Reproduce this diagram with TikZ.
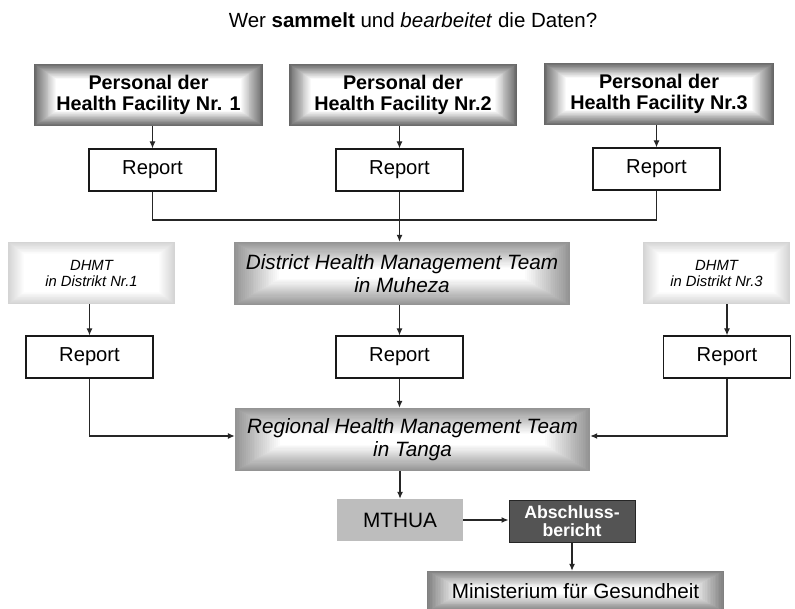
\documentclass[tikz,border=0pt]{standalone}
\usepackage{fontspec}
\setmainfont{Liberation Sans}
\usetikzlibrary{arrows.meta,backgrounds,calc}

\newcommand\glowfill[5]{% node, outer colour, inset x, inset y, steps
  \foreach \i in {0,...,#5}{%
    \pgfmathsetmacro\pct{100*(\i/#5)}%
    \pgfmathsetmacro\dx{\i*#3/#5}%
    \pgfmathsetmacro\dy{\i*#4/#5}%
    \fill[white!\pct!#2] ([shift={(\dx pt,-\dy pt)}]#1.north west) rectangle ([shift={(-\dx pt,\dy pt)}]#1.south east);
  }}

\tikzset{
  conn/.style={draw=black!85, line width=1.2pt},
  arr/.style={conn, -{Latex[length=7pt,width=6pt]}},
  plain/.style={inner sep=0pt, align=center},
  hfbox/.style={plain, font=\fontsize{19.8}{21.5}\selectfont\bfseries, minimum height=62pt},
  reportbox/.style={plain, draw=black!90, line width=1.2pt, fill=white,
     minimum width=127pt, minimum height=42pt, font=\fontsize{20.2}{22}\selectfont},
  dsmall/.style={plain, font=\fontsize{14.8}{16}\selectfont\itshape, minimum height=62pt},
  dbig/.style={plain, font=\fontsize{20.7}{22.5}\selectfont\itshape, minimum height=63pt},
  mthuabox/.style={plain, fill=black!26, minimum width=126pt, minimum height=42pt,
     font=\fontsize{20.8}{22}\selectfont},
  abschbox/.style={plain, fill=black!67, draw=black!85, line width=1pt, text=white,
     minimum width=126pt, minimum height=42pt, font=\fontsize{17.7}{18.5}\selectfont\bfseries},
  minibox/.style={plain, minimum width=297pt, minimum height=40pt, font=\fontsize{20.7}{22}\selectfont},
}

\begin{document}
\begin{tikzpicture}[x=1pt,y=-1pt]
\useasboundingbox (0,0) rectangle (795,609);

\node[plain, font=\fontsize{20.5}{22}\selectfont] (title) at (413,20)
  {Wer \textbf{sammelt} und \textit{bearbeitet} die Daten?};

% health facilities
\node[hfbox, minimum width=229pt] (hf1) at (148.5,95) {Personal der\\Health Facility Nr. 1};
\node[hfbox, minimum width=228pt] (hf2) at (403,95) {Personal der\\Health Facility Nr.2};
\node[hfbox, minimum width=230pt] (hf3) at (659,94) {Personal der\\Health Facility Nr.3};

% first reports
\node[reportbox] (r1) at (152.5,170) {Report};
\node[reportbox] (r2) at (399.5,170) {Report};
\node[reportbox] (r3) at (656.5,169) {Report};

% district teams
\node[dsmall, minimum width=167pt] (d1) at (91.5,273) {DHMT\\in Distrikt Nr.1};
\node[dbig, minimum width=336pt] (d2) at (402,273.5) {District Health Management Team\\in Muheza};
\node[dsmall, minimum width=147pt] (d3) at (716.5,273) {DHMT\\in Distrikt Nr.3};

% second reports
\node[reportbox] (r4) at (89.5,357) {Report};
\node[reportbox] (r5) at (399.5,357) {Report};
\node[reportbox] (r6) at (727,357) {Report};

% regional team
\node[dbig, minimum width=355pt] (rh) at (412.5,439.5) {Regional Health Management Team\\in Tanga};

\node[mthuabox] (mt) at (400,520) {MTHUA};
\node[abschbox] (ab) at (572,521) {Abschluss-\\[-1pt]bericht};
\node[minibox] (mi) at (575.5,591) {Ministerium für Gesundheit};

\coordinate (j) at (399.5,220);

\begin{pgfonlayer}{background}
  \glowfill{hf1}{black!60}{22}{15}{24}
  \glowfill{hf2}{black!60}{22}{15}{24}
  \glowfill{hf3}{black!60}{22}{15}{24}
  \glowfill{d1}{black!17}{16}{12}{16}
  \glowfill{d3}{black!17}{16}{12}{16}
  \glowfill{d2}{black!42}{45}{26}{24}
  \glowfill{rh}{black!42}{45}{26}{24}
  \glowfill{mi}{black!50}{32}{17}{20}
\end{pgfonlayer}

% connectors
\draw[arr] (hf1.south -| r1.north) -- (r1.north);
\draw[arr] (hf2.south -| r2.north) -- (r2.north);
\draw[arr] (hf3.south -| r3.north) -- (r3.north);
\draw[conn] (r1.south) |- (j) -| (r3.south);
\draw[arr] (r2.south) -- (d2.north -| r2.south);
\draw[arr] (d1.south -| r4.north) -- (r4.north);
\draw[arr] (d2.south -| r5.north) -- (r5.north);
\draw[arr] (d3.south -| r6.north) -- (r6.north);
\draw[arr] (r4.south) |- ([yshift=3.5pt]rh.west);
\draw[arr] (r6.south) |- ([yshift=3.5pt]rh.east);
\draw[arr] (r5.south) -- (rh.north -| r5.south);
\draw[arr] (rh.south -| mt.north) -- (mt.north);
\draw[arr] (mt.east) -- (ab.west |- mt.east);
\draw[arr] (ab.south) -- (ab.south |- mi.north);
\end{tikzpicture}
\end{document}
